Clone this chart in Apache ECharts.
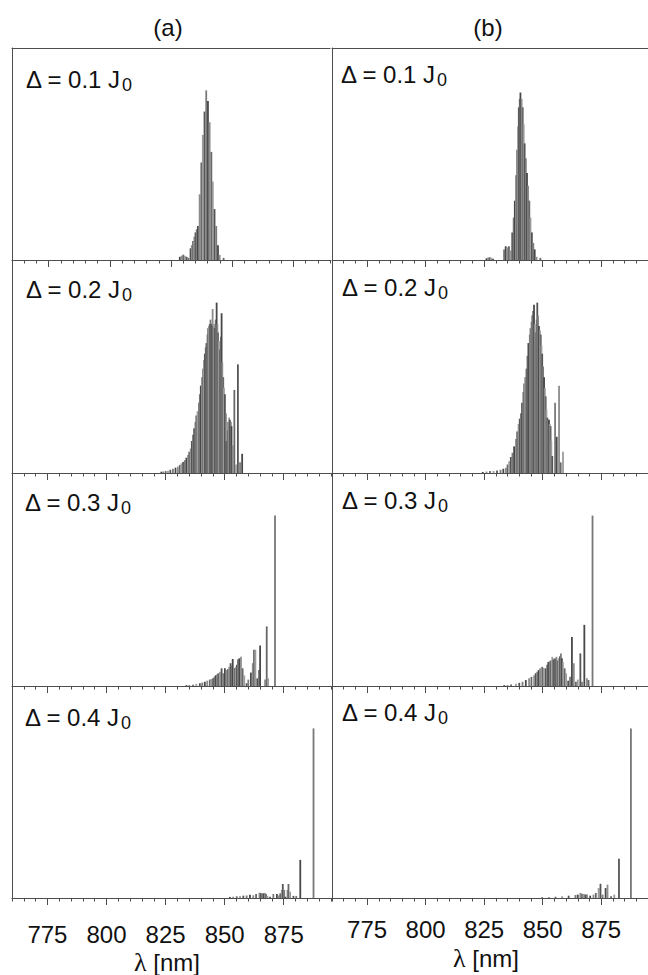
<!DOCTYPE html>
<html><head><meta charset="utf-8">
<script src="https://cdn.jsdelivr.net/npm/echarts@6/dist/echarts.min.js"></script>
<style>html,body{margin:0;padding:0;background:#fff}#c{width:648px;height:975px}</style>
</head><body><div id="c"></div>
<script>
// ---- data (wavelength in nm, intensity in % of panel height) ----
const tickLabels = [775, 800, 825, 850, 875];
const deltaLabels = ['0.1', '0.2', '0.3', '0.4'];
const columnTitles = ['(a)', '(b)'];

const a1X = [828.6,829.3,830,830.7,831.4,832.1,833,833.5,834,834.5,835,835.5,836,836.7,837.4,838,838.7,839.4,840.1,840.8,841.5,842.1,842.8,843.5,844.2,844.9,846.5];
const a1Y = [1.5,2,2.5,2,1.5,1,5.5,7,9,11,13,14.5,16,31,46,59,70,80,75,65,51,37,24,16,7,2.4,1];

const b1X = [826,826.7,827.4,828.1,828.8,833.5,834.2,835,835.6,836.3,837,837.6,838.1,838.6,839.1,839.5,839.8,840.2,840.5,841,841.5,841.9,842.3,842.8,843.3,843.8,844.3,844.8,845.4,846,846.6,847.4,849];
const b1Y = [0.8,1.2,1.3,1,0.6,5,6.5,6,6.5,4.5,13,20,28,40,52,63,72,76,79,76,72,64,55,48,41,35,28,20,13,8,5,1.5,1];

const a2X = [823.2,824,825,826,827,828.1,829.2,830.2,831,831.7,832.4,833.1,833.8,834.5,835,835.6,836.1,836.6,837.1,837.6,838,838.5,839.2,839.5,839.9,840.4,840.9,841.2,841.6,842,842.3,842.7,843,843.3,843.7,844,844.4,844.9,845.1,845.5,845.8,846.2,846.6,846.9,847.2,847.6,848.1,848.4,848.7,849,849.4,849.7,850.1,850.5,850.8,851.2,851.5,851.9,852.2,852.6,852.9,853.4,854.1,854.8,855.6,856.5,857.4];
const a2Y = [0.6,0.7,0.9,1,1.5,2,2.5,3,3.8,4.5,5.2,6,7.2,8.5,10,11.5,15,18,21,24,27,29,33,37,41,45,49,53,56,59,61,65,68,69,70,72,70,77,69,70,68,72,80,70,66,62,58,64,75,52,45,40,37,28,15,20,24,26,25,24,22,13,39,4,51,5,9];

const b2X = [824.4,826,827.5,829,830.5,832,833.2,834.3,835,835.7,836.4,837.1,837.8,838.6,839.1,839.7,840.2,840.7,841.2,841.7,842.1,842.5,843.1,843.5,843.9,844.5,844.8,845.2,845.6,845.9,846.3,846.6,847,847.4,847.7,848,848.4,848.8,849.2,849.5,849.8,850.2,850.6,850.9,851.3,851.6,852,852.3,852.7,853,853.4,853.7,854.1,855.3,856,857,857.7,858.7];
const b2Y = [0.5,0.7,0.9,1,1.2,1.5,2,2.5,4,5.5,7.5,9.5,12.5,16,19.5,23,25.5,28,33,38,42,45,49,55,61,65,68,71,74,76,79,70,66,72,80,74,69,67,65,60,56,50,45,40,36,30,26,25,25,23,22,15,8,33,17,41,5,10];

const a3X = [833.8,835,836.6,838,839.5,840.5,841.6,842.6,843.7,844.4,845.1,845.7,846.3,846.8,847.3,848,848.7,849.4,850.1,850.8,851.4,851.9,852.5,853,853.4,854,854.4,854.8,855.2,855.6,856.2,856.9,857.6,858.3,859.3,860,861.1,861.9,862.4,863,863.8,864.5,865,867.1,867.8,868.4,871.3];
const a3Y = [0.4,0.5,0.6,1,1.3,1.6,2,2.5,3,3.3,3.6,4.5,5,5.5,6,6.7,8.3,6,8.3,7.5,8,9,10.7,9.5,12.7,8.3,8.5,9,10,12.5,13,13.7,8.3,5,1.3,3,6.3,10.7,17,17,3.6,7.5,19,3,28,3.6,80];

const b3X = [833.6,835,836.5,838.6,840,841.4,842.8,844.2,845.2,846.3,847,847.7,848.3,848.9,849.8,850.5,851.3,851.9,852.4,853,853.4,854.1,854.6,855.1,855.5,855.9,856.4,856.9,857.4,857.8,858.2,858.6,859.4,860,860.9,861.7,862.5,863.3,864.2,865,866.1,866.8,867.8,868.9,869.6,871.3];
const b3Y = [0.4,0.5,0.7,1,1.5,2,2.8,3.6,4.3,5,6,6.7,7.5,8.3,9,8.5,8.3,10,11.3,11.5,12,13.7,12.5,13,12.8,13.7,12,13,14,15.3,13,11.3,8.3,6,2.5,4.4,23,10.7,2,3,15.3,2,28.7,3.6,2.8,80];

const a4X = [852.2,853.6,855.1,856.5,857.9,859.3,860.7,862.1,863.3,864.7,865.2,865.7,866.4,867,867.5,868.1,869.2,870.6,872.1,872.8,873.5,874.2,874.6,875.2,875.7,876.6,877,877.7,879.1,880.3,882,887.6];
const a4Y = [0.5,0.6,0.8,1,1.1,1.2,1.5,1.3,1.9,2.5,2.3,2.2,2.2,2.4,1.9,1,0.6,1.9,1.9,1.2,2.2,3.8,6.6,3.8,0.6,3.8,6.6,3,1,1,18,80];

const b4X = [849.8,852.7,855.5,858.3,861.1,864,865,866.1,866.8,867.5,868.2,868.9,870.3,871.7,872.7,873.9,874.7,875.6,876.9,877.7,879.2,880.6,882.6,887.7];
const b4Y = [0.3,0.5,0.6,0.8,1.1,1.4,1.6,2.4,2,1.9,1.7,1.6,1.1,1.6,2.4,4.7,6.7,1.6,4.7,6.3,0.8,1.6,18.5,80];

const panelData = [
  [[a1X, a1Y], [b1X, b1Y]],
  [[a2X, a2Y], [b2X, b2Y]],
  [[a3X, a3Y], [b3X, b3Y]],
  [[a4X, a4Y], [b4X, b4Y]]
];

// ---- layout / style ----
const rowTop = [48, 260, 473, 686];
const rowH = [212, 213, 213, 212];
const colLeft = [12, 332];
const lineColor = '#4d4d4d';
const SANS = '"Liberation Sans", Arial, Helvetica, sans-serif';
const SERIF = '"Liberation Serif", "Times New Roman", serif';
const palette = ['#474747', '#8c8c8c', '#686868', '#9c9c9c', '#555555', '#7a7a7a'];

const minorTicks = [];
for (let v = 760; v <= 895; v += 5) minorTicks.push(v);

const grids = [], xAxes = [], yAxes = [], series = [];
let gi = 0;
for (let r = 0; r < 4; r++) {
  for (let c = 0; c < 2; c++) {
    const xmax = (r === 0 && c === 0) ? 890 : 895;
    const w = (r === 0 && c === 0) ? 318 : (c === 0 ? 319 : 318);
    grids.push({ left: colLeft[c], top: rowTop[r], width: w, height: rowH[r], containLabel: false });
    const majorIdx = xAxes.length;
    xAxes.push({
      gridIndex: gi, type: 'value', min: 760, max: xmax, position: 'bottom',
      axisLine: { show: true, lineStyle: { color: lineColor, width: 1 } },
      axisTick: { show: true, length: 7, customValues: tickLabels, lineStyle: { color: lineColor, width: 1 } },
      axisLabel: { show: r === 3, customValues: tickLabels, fontSize: 24, fontFamily: SANS, color: '#111',
                   margin: c === 0 ? 24 : 19 },
      splitLine: { show: false }
    });
    xAxes.push({
      gridIndex: gi, type: 'value', min: 760, max: xmax, position: 'bottom',
      axisLine: { show: false },
      axisTick: { show: true, length: 3.5, customValues: minorTicks.filter(v => v <= xmax), lineStyle: { color: lineColor, width: 1 } },
      axisLabel: { show: false }, splitLine: { show: false }
    });
    if (r === 0) {
      xAxes.push({
        gridIndex: gi, type: 'value', min: 760, max: xmax, position: 'top',
        axisLine: { show: true, lineStyle: { color: lineColor, width: 1 } },
        axisTick: { show: false }, axisLabel: { show: false }, splitLine: { show: false }
      });
    }
    yAxes.push({
      gridIndex: gi, type: 'value', min: 0, max: 100,
      axisLine: { show: true, lineStyle: { color: lineColor, width: 1 } },
      axisTick: { show: false }, axisLabel: { show: false }, splitLine: { show: false }
    });
    const [xs, ys] = panelData[r][c];
    series.push({
      type: 'bar', xAxisIndex: majorIdx, yAxisIndex: gi,
      data: xs.map((v, i) => [v, ys[i]]),
      barWidth: 1.8, silent: true, animation: false,
      itemStyle: { color: p => (p.dataIndex === xs.length - 1 && p.value[1] > 50) ? '#777777' : palette[p.dataIndex % palette.length] }
    });
    gi++;
  }
}

// measure text width for subscript placement
const mctx = document.createElement('canvas').getContext('2d');
const MAIN_FONT = 24, SUB_FONT = 18;
mctx.font = MAIN_FONT + 'px ' + SANS;

// text labels: [left x, middle y]
const labelPos = [
  [[26, 79], [341, 74]],
  [[26, 289], [342, 287]],
  [[25, 502], [342, 500]],
  [[25, 717], [342, 712]]
];
const graphic = [];
for (let r = 0; r < 4; r++) {
  for (let c = 0; c < 2; c++) {
    const mainText = 'Δ = ' + deltaLabels[r] + ' J';
    const wMain = mctx.measureText(mainText).width;
    const [lx, ly] = labelPos[r][c];
    graphic.push({
      type: 'text', x: lx, y: ly, silent: true,
      style: { text: mainText, fontSize: MAIN_FONT, fontFamily: SANS, fill: '#111', align: 'left', verticalAlign: 'middle' }
    });
    graphic.push({
      type: 'text', x: lx + wMain + 0.5, y: ly + 5.5, silent: true,
      style: { text: '0', fontSize: SUB_FONT, fontFamily: SANS, fill: '#111', align: 'left', verticalAlign: 'middle' }
    });
  }
}
const titleX = [168, 488];
const lambdaPos = [[167, 962], [486, 958]];
for (let c = 0; c < 2; c++) {
  graphic.push({
    type: 'text', x: titleX[c], y: 27, silent: true,
    style: { text: columnTitles[c], fontSize: 24, fontFamily: SANS, fill: '#111', align: 'center', verticalAlign: 'middle' }
  });
  graphic.push({
    type: 'text', x: lambdaPos[c][0], y: lambdaPos[c][1], silent: true,
    style: {
      text: '{l|λ} [nm]', fontSize: 24, fontFamily: SANS, fill: '#111', align: 'center', verticalAlign: 'middle',
      rich: { l: { fontFamily: SERIF, fontSize: 26, fill: '#111' } }
    }
  });
}

const chart = echarts.init(document.getElementById('c'), null, { renderer: 'svg', width: 648, height: 975 });
chart.setOption({
  animation: false,
  backgroundColor: '#ffffff',
  grid: grids, xAxis: xAxes, yAxis: yAxes, series: series, graphic: graphic
});
</script>
</body></html>
